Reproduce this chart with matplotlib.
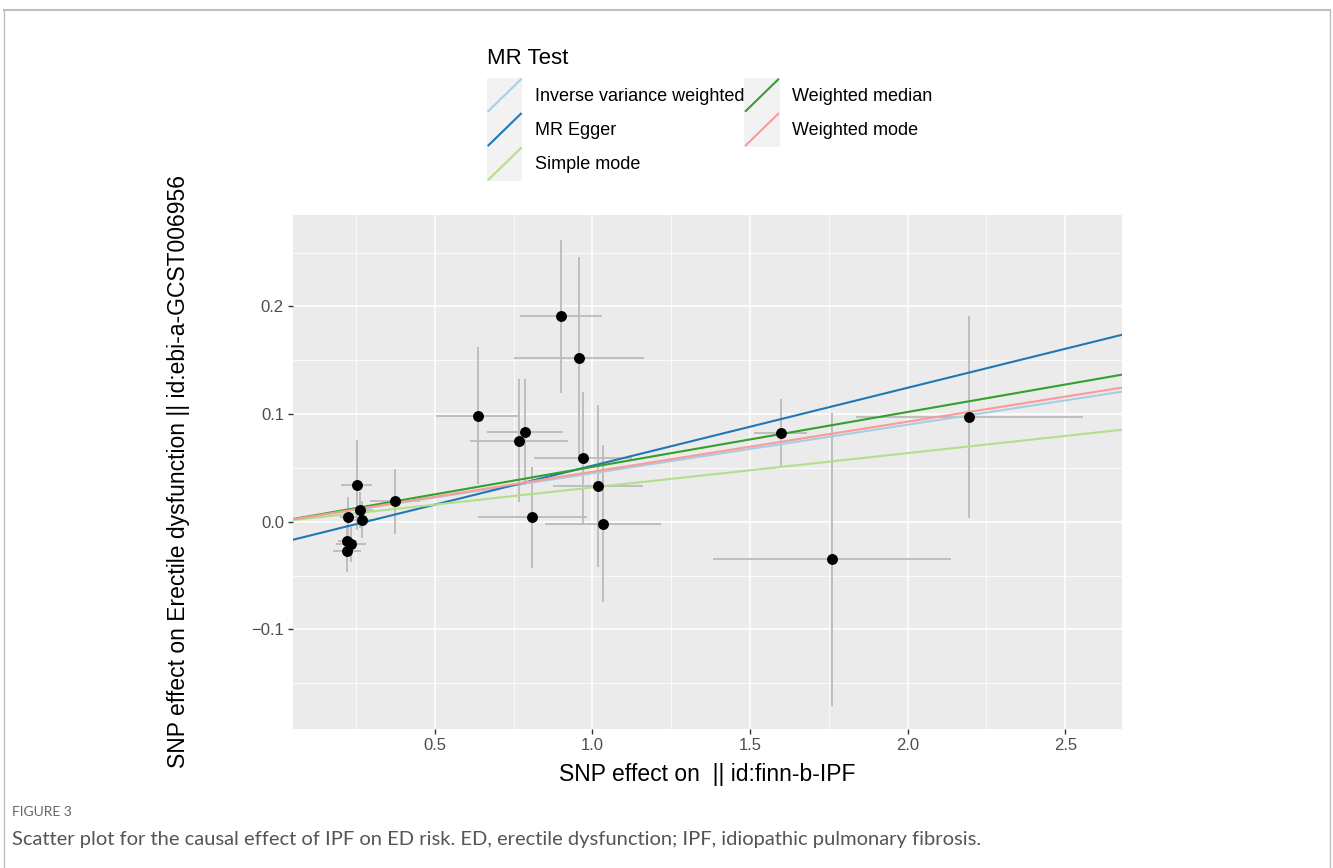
import matplotlib
matplotlib.use("Agg")
import matplotlib.pyplot as plt
from matplotlib.legend_handler import HandlerBase
from matplotlib.patches import Rectangle
from matplotlib.lines import Line2D

# ---- data ----
snp_x = [0.224, 0.252, 0.264, 0.269, 0.2215, 0.234, 0.2215, 0.373,
         0.636, 0.767, 0.785, 0.809, 0.899, 0.957, 0.969, 1.018, 1.035,
         1.598, 1.761, 2.196]
snp_y = [0.0044, 0.0343, 0.011, 0.002, -0.018, -0.021, -0.0276, 0.0189,
         0.0987, 0.0755, 0.0833, 0.0043, 0.191, 0.152, 0.0588, 0.0331, -0.0019,
         0.0829, -0.0347, 0.0972]
se_x = [0.025, 0.050, 0.040, 0.035, 0.030, 0.047, 0.044, 0.080,
        0.132, 0.155, 0.121, 0.173, 0.130, 0.205, 0.155, 0.143, 0.184,
        0.084, 0.377, 0.361]
se_y = [0.019, 0.042, 0.017, 0.017, 0.015, 0.016, 0.019, 0.030,
        0.064, 0.057, 0.049, 0.047, 0.071, 0.094, 0.062, 0.075, 0.073,
        0.031, 0.136, 0.094]

methods = ["Inverse variance weighted", "MR Egger", "Simple mode",
           "Weighted median", "Weighted mode"]
intercepts = [0.0, -0.0203, 0.0, 0.0, 0.0]
slopes = [0.0451, 0.0724, 0.0319, 0.0510, 0.0465]
colors = ["#A6CEE3", "#1F78B4", "#B2DF8A", "#33A02C", "#FB9A99"]

x_ticks = [0.5, 1.0, 1.5, 2.0, 2.5]
x_ticklabels = ["0.5", "1.0", "1.5", "2.0", "2.5"]
y_ticks = [-0.1, 0.0, 0.1, 0.2]
y_ticklabels = ["\u22120.1", "0.0", "0.1", "0.2"]

W, H = 1333, 868
fig = plt.figure(figsize=(W / 100, H / 100), dpi=100)
fig.patch.set_facecolor("white")

# outer border of the figure card
fig.add_artist(Line2D([4 / W, 1330 / W], [1 - 10 / H, 1 - 10 / H], color="#BDBDBD", lw=1.5))
fig.add_artist(Line2D([4 / W, 4 / W], [0, 1 - 10 / H], color="#BDBDBD", lw=1.0))
fig.add_artist(Line2D([1330 / W, 1330 / W], [0, 1 - 10 / H], color="#BDBDBD", lw=1.0))

ax = fig.add_axes([293 / W, 1 - 729 / H, (1122 - 293) / W, (729 - 215) / H])
ax.set_facecolor("#EBEBEB")
for s in ax.spines.values():
    s.set_visible(False)

ax.set_xlim(0.05, 2.68)
ax.set_ylim(-0.1925, 0.285)
ax.set_xticks(x_ticks)
ax.set_xticklabels(x_ticklabels)
ax.set_yticks(y_ticks)
ax.set_yticklabels(y_ticklabels)
ax.set_xticks([0.25, 0.75, 1.25, 1.75, 2.25], minor=True)
ax.set_yticks([-0.15, -0.05, 0.05, 0.15, 0.25], minor=True)
ax.grid(which="major", color="white", lw=1.1)
ax.grid(which="minor", color="white", lw=0.55)
ax.set_axisbelow(True)
ax.tick_params(which="major", length=3.5, width=1.0, color="#333333",
               labelsize=12, labelcolor="#4D4D4D", pad=3)
ax.tick_params(which="minor", length=0)
for lab in ax.get_xticklabels() + ax.get_yticklabels():
    lab.set_family("Liberation Sans")

ax.errorbar(snp_x, snp_y, xerr=se_x, yerr=se_y, fmt="none",
            ecolor="#BEBEBE", elinewidth=1.4, capsize=0, zorder=2)
ax.scatter(snp_x, snp_y, s=62, color="black", zorder=4, linewidths=0)

handles = []
for m, b, sl, c in zip(methods, intercepts, slopes, colors):
    ax.axline((0, b), slope=sl, color=c, lw=1.5, zorder=3)
    handles.append(Line2D([], [], color=c, lw=1.5, label=m))

ax.set_xlabel("SNP effect on  || id:finn-b-IPF", fontsize=16.5,
              family="Liberation Sans")
ax.xaxis.set_label_coords(0.5, (729 - 763) / 514)
ax.set_ylabel("SNP effect on Erectile dysfunction || id:ebi-a-GCST006956",
              fontsize=16.5, family="Liberation Sans")
ax.yaxis.set_label_coords((190 - 293) / 829, 0.5)


class DiagHandler(HandlerBase):
    def create_artists(self, legend, orig_handle, xdescent, ydescent,
                       width, height, fontsize, trans):
        bg = Rectangle((-xdescent, -ydescent), width, height,
                       facecolor="#F2F2F2", edgecolor="none", transform=trans)
        ln = Line2D([-xdescent + 1, -xdescent + width - 1],
                    [-ydescent + 1, -ydescent + height - 1],
                    color=orig_handle.get_color(), lw=1.5, transform=trans)
        return [bg, ln]


leg = fig.legend(handles=handles, loc="upper left",
                 bbox_to_anchor=(478 / W, 1 - 39 / H), ncol=2,
                 frameon=False, borderpad=0, fontsize=13,
                 title="MR Test", title_fontsize=16, alignment="left",
                 handler_map={Line2D: DiagHandler()},
                 handlelength=1.95, handleheight=2.55, labelspacing=0.0,
                 handletextpad=0.7, columnspacing=0.0,
                 prop={"family": "Liberation Sans", "size": 13})
leg.get_title().set_family("Liberation Sans")
leg._legend_box.sep = 6.5

fig.text(12 / W, 1 - 812 / H, "FIGURE 3", fontsize=10, color="#666666",
         family="Lato", va="center", ha="left")
fig.text(12 / W, 1 - 840 / H,
         "Scatter plot for the causal effect of IPF on ED risk. ED, erectile dysfunction; IPF, idiopathic pulmonary fibrosis.",
         fontsize=14.5, color="#555555", family="Lato", va="center", ha="left")

fig.savefig("out.png", dpi=100)
